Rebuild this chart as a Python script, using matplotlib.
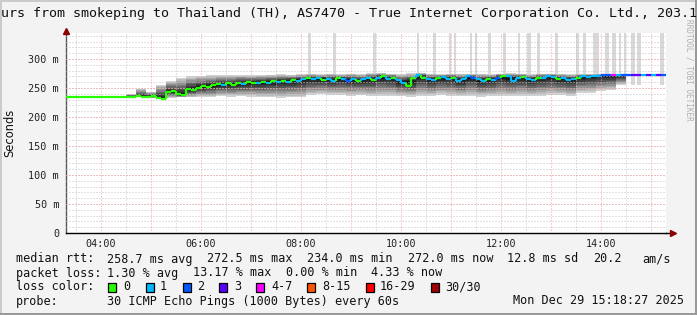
import numpy as np
import matplotlib
matplotlib.use('Agg')
import matplotlib.pyplot as plt
from matplotlib.collections import LineCollection
from matplotlib.patches import Rectangle

# ---------------- data ----------------
t_start = 3 + 18/60 + 27/3600          # 03:18:27
t_end = t_start + 12                    # 15:18:27
med_step = 0.1                          # hours between median samples
smoke_step = 0.2                        # hours between smoke samples

median_ms = [234, 234, 234, 234, 234, 234, 234, 234, 234, 234,
             234, 234, 234, 235, 236, 234, 234, 236, 233, 232,
             243, 245, 239, 238, 249, 246, 250, 253, 251, 255,
             257, 255, 258, 256, 259, 257, 260, 259, 258, 261,
             259, 262, 260, 263, 261, 264, 262, 266, 267, 265,
             268, 264, 266, 263, 267, 265, 263, 266, 262, 265,
             267, 264, 268, 270, 266, 268, 264, 258, 254, 268,
             272, 268, 266, 264, 267, 269, 266, 268, 262, 266,
             270, 268, 265, 262, 266, 264, 268, 270, 271, 263,
             267, 269, 266, 264, 268, 267, 270, 269, 265, 268,
             264, 266, 268, 270, 269, 271, 271, 272, 272, 272,
             272, 272, 272, 272, 272, 272, 272, 272, 272, 272]

loss_pings = [0, 0, 0, 0, 0, 0, 0, 0, 0, 0,
              0, 0, 0, 0, 0, 0, 0, 0, 0, 0,
              0, 0, 0, 0, 0, 0, 0, 0, 0, 0,
              0, 1, 0, 0, 0, 1, 0, 0, 1, 0,
              1, 0, 1, 0, 1, 0, 1, 1, 0, 1,
              1, 0, 1, 1, 0, 1, 2, 1, 0, 1,
              1, 0, 1, 0, 1, 0, 1, 1, 0, 0,
              1, 0, 1, 1, 0, 1, 1, 0, 1, 1,
              1, 2, 1, 1, 0, 1, 2, 0, 1, 1,
              1, 0, 1, 1, 0, 1, 1, 1, 0, 1,
              1, 1, 0, 1, 1, 1, 1, 2, 2, 4,
              1, 2, 2, 3, 3, 1, 3, 1, 3, 2]

smoke_lo = [234, 234, 234, 234, 234, 234, 234, 234, 233, 231,
            233, 234, 234, 235, 235, 236, 235, 236, 235, 234,
            234, 233, 234, 234, 238, 239, 238, 238, 237, 238,
            236, 236, 237, 236, 235, 237, 236, 238, 237, 236,
            236, 235, 236, 237, 236, 237, 236, 237, 238, 238,
            236, 242, 242, 245, 246, 255, 272, 272, 272, 272]
smoke_hi = [234, 234, 234, 234, 234, 234, 240, 249, 244, 256,
            262, 268, 270, 271, 272, 272, 272, 273, 272, 273,
            273, 274, 273, 274, 275, 274, 275, 274, 275, 274,
            276, 276, 275, 274, 276, 276, 275, 274, 275, 275,
            274, 275, 274, 275, 276, 275, 274, 275, 275, 275,
            274, 274, 274, 274, 273, 273, 272, 272, 272, 272]

spike_times = [8.17, 8.67, 9.47, 10.35, 10.67, 10.99, 11.09, 11.41, 11.51,
               11.77, 12.07, 12.37, 12.57, 12.75, 13.11, 13.53, 13.67, 13.91,
               14.13, 14.27, 14.39, 14.49, 14.65, 14.77, 15.23]
spike_widths = [0.06, 0.06, 0.06, 0.05, 0.06, 0.05, 0.05, 0.05, 0.05,
                0.06, 0.06, 0.05, 0.07, 0.06, 0.06, 0.06, 0.06, 0.11,
                0.07, 0.07, 0.05, 0.05, 0.07, 0.07, 0.07]
spike_top = 360

x_tick_hours = [4, 6, 8, 10, 12, 14]
x_tick_labels = ['04:00', '06:00', '08:00', '10:00', '12:00', '14:00']
y_ticks = [0, 50, 100, 150, 200, 250, 300]
y_tick_labels = ['0', '50 m', '100 m', '150 m', '200 m', '250 m', '300 m']

loss_classes = ['0', '1', '2', '3', '4-7', '8-15', '16-29', '30/30']
loss_colors = ['#26ff00', '#00b8ff', '#0059ff', '#5e00ff', '#ff00ff',
               '#ff5500', '#ff0000', '#a10000']

title_text = "urs from smokeping to Thailand (TH), AS7470 - True Internet Corporation Co. Ltd., 203.1"

# ---------------- figure ----------------
W, H = 697, 315
fig = plt.figure(figsize=(W/100, H/100), dpi=100)
fig.patch.set_facecolor('#f3f3f3')
MONO = 'DejaVu Sans Mono'

ax = fig.add_axes([66/W, 1-233/H, 600/W, 200/H])
ax.set_facecolor('white')
ax.set_xlim(t_start, t_end)
ax.set_ylim(0, 345)


def color_for_loss(l):
    if l <= 3:
        return loss_colors[l]
    if l <= 7:
        return loss_colors[4]
    if l <= 15:
        return loss_colors[5]
    if l <= 29:
        return loss_colors[6]
    return loss_colors[7]

# spikes (light grey outliers)
ax.bar(spike_times, [spike_top - 255]*len(spike_times), bottom=255,
       width=spike_widths, color='#d9d9d9', align='center', zorder=1, linewidth=0)

# smoke
med = np.array(median_ms, float)
med_s = (med[0::2] + med[1::2]) / 2
lo = np.array(smoke_lo, float)
hi = np.array(smoke_hi, float)
ts = t_start + smoke_step * np.arange(len(lo) + 1)
K = 10
greys = np.linspace(0.82, 0.08, K)
has = hi > lo
where = np.append(has, False) | np.append(False, has)
for k in range(K):
    frac = 0.92 * k / (K - 1)
    bl = lo + (med_s - lo) * frac
    bh = hi - (hi - med_s) * frac
    bl_e = np.append(bl, bl[-1])
    bh_e = np.append(bh, bh[-1])
    ax.fill_between(ts, bl_e, bh_e, where=where,
                    step='post', color=str(greys[k]), linewidth=0, zorder=2)

# grid
hours_major = np.arange(4, 16)
hours_minor = np.arange(3.5, 15.5, 1.0)
ax.vlines(hours_minor, 0, 345, colors='#c4c4c4', linestyles=(0, (1, 2)), lw=0.72, zorder=3)
ax.hlines(np.arange(10, 345, 10), t_start, t_end, colors='#c4c4c4',
          linestyles=(0, (1, 2)), lw=0.72, zorder=3)
ax.vlines(hours_major, 0, 345, colors='#f0a0a0', linestyles=(0, (1, 2)), lw=0.72, zorder=3.1)
ax.hlines(np.arange(50, 345, 50), t_start, t_end, colors='#f0a0a0',
          linestyles=(0, (1, 2)), lw=0.72, zorder=3.1)

# median line, coloured by loss
tm = t_start + med_step * np.arange(len(med))
segs, cols = [], []
for i in range(len(med)):
    c = color_for_loss(loss_pings[i])
    if i > 0 and med[i] != med[i-1]:
        segs.append([(tm[i], med[i-1]), (tm[i], med[i])])
        cols.append(c)
    segs.append([(tm[i], med[i]), (tm[i] + med_step, med[i])])
    cols.append(c)
ax.add_collection(LineCollection(segs, colors=cols, linewidths=1.6, zorder=4,
                                 capstyle='butt'))

# axes styling
for s in ['top', 'right']:
    ax.spines[s].set_visible(False)
ax.spines['left'].set_color('#555555')
ax.spines['bottom'].set_color('black')
ax.spines['left'].set_linewidth(1.0)
ax.spines['bottom'].set_linewidth(1.0)
ax.set_xticks(x_tick_hours)
ax.set_xticklabels(x_tick_labels, family=MONO, fontsize=7.3, color='#222222')
ax.set_yticks(y_ticks)
ax.set_yticklabels(y_tick_labels, family=MONO, fontsize=7.3, color='#222222')
ax.tick_params(axis='both', length=0)
ax.tick_params(axis='x', pad=4)
ax.tick_params(axis='y', pad=5)

# axis arrows
ax.plot([1.0, 1.012], [0, 0], color='black', lw=1.0, transform=ax.transAxes, clip_on=False)
ax.plot([1.012], [0], marker='>', color='#8b0000', markersize=4, transform=ax.transAxes,
        clip_on=False, zorder=6)
ax.plot([0], [1.01], marker='^', color='#8b0000', markersize=4, transform=ax.transAxes,
        clip_on=False, zorder=6)

# texts
fig.text(1/W, 1-14/H, title_text, ha='left', va='center', family=MONO, fontsize=9.6,
         color='#111111')
fig.text(10/W, 1-133/H, 'Seconds', rotation=90, ha='center', va='center',
         family='DejaVu Sans', fontsize=8.3, color='#111111')
fig.text(689/W, 1-70/H, 'RRDTOOL / TOBI OETIKER', rotation=270, ha='center', va='center',
         family=MONO, fontsize=5.6, color='#b0b0b0')

FS = 8.5
def ftext(x, y, s):
    fig.text(x/W, 1-y/H, s, ha='left', va='center', family=MONO, fontsize=FS, color='#111111')

y1, y2, y3, y4 = 259, 273, 287, 301
ftext(16, y1, 'median rtt:')
ftext(107, y1, '258.7 ms avg')
ftext(207, y1, '272.5 ms max')
ftext(307, y1, '234.0 ms min')
ftext(408, y1, '272.0 ms now')
ftext(507, y1, '12.8 ms sd')
ftext(593, y1, '20.2')
ftext(642, y1, 'am/s')

ftext(16, y2, 'packet loss:')
ftext(107, y2, '1.30 % avg')
ftext(193, y2, '13.17 % max')
ftext(286, y2, '0.00 % min')
ftext(371, y2, '4.33 % now')

ftext(16, y3, 'loss color:')
box_x = [108, 146, 183, 219, 256, 307, 366, 431]
lab_x = [123, 160, 197, 234, 271, 322, 380, 445]
for bx, lx, lab, c in zip(box_x, lab_x, loss_classes, loss_colors):
    fig.add_artist(Rectangle((bx/W, 1-(y3+4.5)/H), 8/W, 9/H, transform=fig.transFigure,
                             facecolor=c, edgecolor='black', lw=0.9))
    ftext(lx, y3, lab)

ftext(16, y4, 'probe:')
ftext(107, y4, '30 ICMP Echo Pings (1000 Bytes) every 60s')
ftext(513, y4, 'Mon Dec 29 15:18:27 2025')

# frame shading
fig.add_artist(Rectangle((0, 0), 2/W, 1, transform=fig.transFigure, color='#cbcbcb', lw=0))
fig.add_artist(Rectangle((0, 1-2/H), 1, 2/H, transform=fig.transFigure, color='#cbcbcb', lw=0))
fig.add_artist(Rectangle((1-2/W, 0), 2/W, 1, transform=fig.transFigure, color='#999999', lw=0))
fig.add_artist(Rectangle((0, 0), 1, 2/H, transform=fig.transFigure, color='#999999', lw=0))

fig.savefig('out.png', dpi=100, facecolor=fig.get_facecolor())
